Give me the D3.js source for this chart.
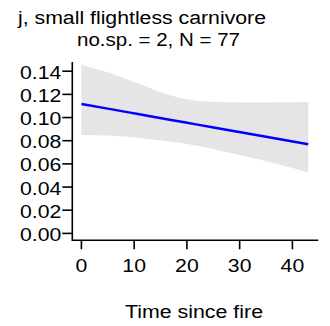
<!DOCTYPE html>
<html>
<head>
<meta charset="utf-8">
<script src="https://cdn.jsdelivr.net/npm/d3@7"></script>
<style>
  body { margin: 0; background: #fff; }
  svg { display: block; font-family: "Liberation Sans", Arial, sans-serif; }
</style>
</head>
<body>
<div id="chart"></div>
<script>
// values
const time = [0, 5, 11, 17, 22, 28, 35, 43];
const fit = [0.1117, 0.1077, 0.1028, 0.0979, 0.0939, 0.0890, 0.0834, 0.0769];
const upper = [0.1456, 0.1390, 0.1290, 0.1190, 0.1145, 0.1132, 0.1130, 0.1134];
const lower = [0.0850, 0.0844, 0.0823, 0.0790, 0.0757, 0.0696, 0.0625, 0.0525];
const xTicks = [0, 10, 20, 30, 40];
const yTicks = [0, 0.02, 0.04, 0.06, 0.08, 0.10, 0.12, 0.14];
const titleLines = ["j, small flightless carnivore", "no.sp. = 2, N = 77"];
const xTitle = "Time since fire";

// the reference text is a little wider than it is tall
const fontSize = 18, stretch = 1.18;

function label(sel, px, py) {
  return sel.attr("transform", `translate(${px},${py}) scale(${stretch},1)`)
    .style("font-size", fontSize + "px");
}

// plain text squeezed/stretched to a measured width
function fitted(sel, px, py, w) {
  return sel.attr("x", px).attr("y", py)
    .style("font-size", fontSize + "px")
    .attr("textLength", w)
    .attr("lengthAdjust", "spacingAndGlyphs");
}

function drawChart(element) {
  const width = 330, height = 326;

  const svg = d3.select(element)
    .append("svg")
    .attr("width", width)
    .attr("height", height);

  const x = d3.scaleLinear().domain([0, 40]).range([81.4, 292.4]);
  const y = d3.scaleLinear().domain([0, 0.14]).range([233.4, 71.2]);

  const rows = time.map((t, i) => ({ t: t, fit: fit[i], lo: lower[i], hi: upper[i] }));

  // confidence band
  const area = d3.area()
    .x(d => x(d.t))
    .y0(d => y(d.lo))
    .y1(d => y(d.hi))
    .curve(d3.curveMonotoneX);

  svg.append("path")
    .datum(rows)
    .attr("d", area)
    .attr("fill", "#e5e5e5");

  // fitted line
  const line = d3.line()
    .x(d => x(d.t))
    .y(d => y(d.fit))
    .curve(d3.curveMonotoneX);

  svg.append("path")
    .datum(rows)
    .attr("d", line)
    .attr("fill", "none")
    .attr("stroke", "#0000ff")
    .attr("stroke-width", 2.5);

  // L-shaped box
  const xLeft = 72.3, yBottom = 240.3, xRight = 318.3, yTop = 62;
  svg.append("path")
    .attr("d", `M${xLeft},${yTop}V${yBottom}H${xRight}`)
    .attr("fill", "none")
    .attr("stroke", "#000")
    .attr("stroke-width", 1.6);

  // y axis ticks
  const yAxis = svg.append("g");
  yAxis.selectAll("line")
    .data(yTicks)
    .enter()
    .append("line")
    .attr("x1", xLeft - 10)
    .attr("x2", xLeft)
    .attr("y1", d => y(d))
    .attr("y2", d => y(d))
    .attr("stroke", "#000")
    .attr("stroke-width", 1.6);
  yAxis.selectAll("text")
    .data(yTicks)
    .enter()
    .append("text")
    .each(function (d) { label(d3.select(this), xLeft - 11, y(d) + 7.5); })
    .attr("text-anchor", "end")
    .text(d => d.toFixed(2));

  // x axis ticks
  const xAxis = svg.append("g");
  xAxis.selectAll("line")
    .data(xTicks)
    .enter()
    .append("line")
    .attr("x1", d => x(d))
    .attr("x2", d => x(d))
    .attr("y1", yBottom)
    .attr("y2", yBottom + 9)
    .attr("stroke", "#000")
    .attr("stroke-width", 1.6);
  xAxis.selectAll("text")
    .data(xTicks)
    .enter()
    .append("text")
    .each(function (d) { label(d3.select(this), x(d), 271.5); })
    .attr("text-anchor", "middle")
    .text(d => d);

  fitted(svg.append("text"), 125, 317.5, 138)
    .text(xTitle);

  // title
  fitted(svg.append("text"), 18, 24, 248)
    .text(titleLines[0]);
  fitted(svg.append("text"), 77, 46, 163)
    .text(titleLines[1]);
}

drawChart("#chart");
</script>
</body>
</html>
